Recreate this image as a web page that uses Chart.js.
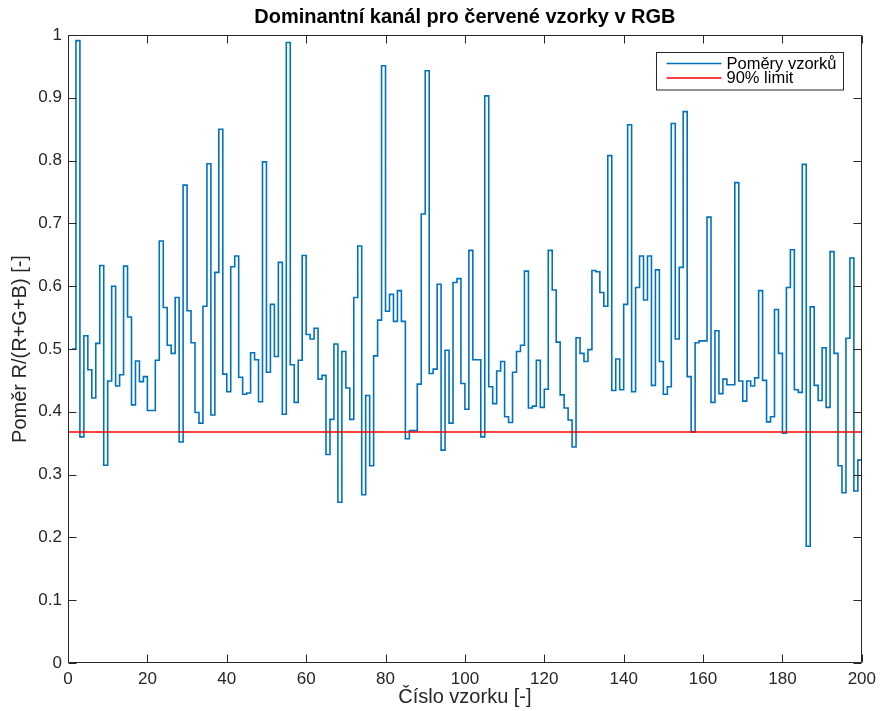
<!doctype html>
<html lang="cs">
<head>
<meta charset="utf-8"/>
<title>Dominantní kanál pro červené vzorky v RGB</title>
<script src="https://cdn.jsdelivr.net/npm/chart.js"></script>
<style>
*{box-sizing:border-box}
html,body{margin:0; padding:0; background:#fff}
#wrap{width:882px; height:711px}
</style>
</head>
<body>
<div id="wrap"><canvas id="chart" width="882" height="711"></canvas></div>
<script>
// ratio R/(R+G+B) per sample, samples 1..200
const ratios = [
  0.500,0.991,0.360,0.521,0.467,0.422,0.509,0.633,0.315,0.449,
  0.600,0.441,0.459,0.632,0.551,0.411,0.481,0.448,0.456,0.402,
  0.402,0.482,0.672,0.566,0.506,0.493,0.582,0.352,0.761,0.561,
  0.510,0.399,0.382,0.568,0.795,0.395,0.622,0.850,0.460,0.432,
  0.631,0.648,0.455,0.428,0.430,0.494,0.483,0.416,0.798,0.463,
  0.571,0.488,0.638,0.396,0.988,0.475,0.415,0.482,0.649,0.523,
  0.516,0.533,0.452,0.458,0.332,0.388,0.508,0.256,0.496,0.438,
  0.388,0.582,0.664,0.268,0.426,0.314,0.489,0.546,0.951,0.560,
  0.587,0.544,0.593,0.544,0.357,0.370,0.370,0.444,0.715,0.943,
  0.461,0.468,0.603,0.339,0.498,0.382,0.606,0.612,0.445,0.404,
  0.657,0.483,0.483,0.360,0.903,0.440,0.413,0.465,0.480,0.392,
  0.383,0.463,0.496,0.506,0.624,0.406,0.409,0.482,0.407,0.436,
  0.657,0.594,0.511,0.427,0.406,0.387,0.344,0.518,0.493,0.480,
  0.499,0.625,0.623,0.590,0.568,0.808,0.434,0.484,0.435,0.571,
  0.857,0.432,0.598,0.648,0.578,0.648,0.442,0.626,0.480,0.428,
  0.440,0.859,0.516,0.630,0.878,0.456,0.368,0.510,0.513,0.513,
  0.710,0.415,0.529,0.429,0.452,0.443,0.443,0.765,0.449,0.417,
  0.449,0.441,0.454,0.593,0.450,0.384,0.392,0.563,0.493,0.366,
  0.598,0.658,0.435,0.431,0.794,0.186,0.567,0.442,0.418,0.502,
  0.407,0.655,0.493,0.314,0.271,0.517,0.645,0.274,0.323,0.380
];
const sampleNo = ratios.map((_, i) => i + 1);
const limitValue = 0.368;
const limitSpan = [0, 200];
const xRange = [0, 200], xStep = 20;
const yRange = [0, 1], yStep = 0.1;

const FONT = '"Liberation Sans", Arial, Helvetica, sans-serif';
const AXIS = '#262626';
const TICK = 8;

// MATLAB style: box around the axes, ticks pointing inwards, legend inside top right
const boxPlugin = {
  id: 'matlabBox',
  afterDraw(chart){
    const {ctx, chartArea:a, scales:{x, y}} = chart;
    const L = Math.round(a.left) + 0.5, R = Math.round(a.right) - 0.5;
    const T = Math.round(a.top) + 0.5, B = Math.round(a.bottom) - 0.5;
    ctx.save();
    ctx.strokeStyle = AXIS; ctx.lineWidth = 1;
    ctx.beginPath();
    ctx.rect(L, T, R - L, B - T);
    x.ticks.forEach(t => {
      const px = Math.round(x.getPixelForValue(t.value)) + 0.5;
      ctx.moveTo(px, B); ctx.lineTo(px, B - TICK);
      ctx.moveTo(px, T); ctx.lineTo(px, T + TICK);
    });
    y.ticks.forEach(t => {
      const py = Math.round(y.getPixelForValue(t.value)) + 0.5;
      ctx.moveTo(L, py); ctx.lineTo(L + TICK, py);
      ctx.moveTo(R, py); ctx.lineTo(R - TICK, py);
    });
    ctx.stroke();

    // legend
    const lw = 187, lh = 37.5;
    const lx = R - 18 - lw, ly = T + 17;
    ctx.fillStyle = '#fff';
    ctx.fillRect(lx, ly, lw, lh);
    ctx.strokeRect(lx, ly, lw, lh);
    ctx.font = '16.5px ' + FONT;
    ctx.textBaseline = 'middle';
    ctx.textAlign = 'left';
    const order = [1, 0];
    order.forEach((di, k) => {
      const ds = chart.data.datasets[di];
      const cy = ly + 11 + k * 14.6;
      ctx.strokeStyle = ds.borderColor; ctx.lineWidth = 1.5;
      ctx.beginPath(); ctx.moveTo(lx + 10, cy); ctx.lineTo(lx + 65, cy); ctx.stroke();
      ctx.fillStyle = '#000';
      ctx.fillText(ds.label, lx + 70, cy + 0.5);
    });
    ctx.restore();
  }
};

const tickFmt = v => String(+v.toFixed(2));

new Chart(document.getElementById('chart'), {
  type: 'line',
  data: {
    datasets: [
      { label: '90% limit', data: limitSpan.map(v => ({x: v, y: limitValue})),
        borderColor: '#FF0000', borderWidth: 1.5, pointRadius: 0, fill: false },
      { label: 'Poměry vzorků', data: sampleNo.map((n, i) => ({x: n, y: ratios[i]})),
        borderColor: '#0072BD', borderWidth: 1.6, pointRadius: 0, fill: false, stepped: 'before' }
    ]
  },
  options: {
    responsive: false, animation: false, devicePixelRatio: 1,
    layout: { padding: { left: 0, right: 18, top: 0, bottom: 0 } },
    plugins: {
      legend: { display: false },
      tooltip: { enabled: false },
      title: { display: true, fullSize: false, text: 'Dominantní kanál pro červené vzorky v RGB',
        color: '#000', font: { family: FONT, size: 20, weight: 'bold' }, padding: { top: 5.5, bottom: 5.5 } }
    },
    scales: {
      x: {
        type: 'linear', min: xRange[0], max: xRange[1],
        grid: { display: false, drawTicks: false }, border: { display: false },
        ticks: { stepSize: xStep, padding: 6, color: AXIS, font: { family: FONT, size: 17 }, callback: tickFmt },
        title: { display: true, text: 'Číslo vzorku [-]', color: AXIS, font: { family: FONT, size: 20 }, padding: { top: 0, bottom: 1.5 } },
        afterFit(s){ s.height = 48; }
      },
      y: {
        type: 'linear', min: yRange[0], max: yRange[1],
        grid: { display: false, drawTicks: false }, border: { display: false },
        ticks: { stepSize: yStep, padding: 6, color: AXIS, font: { family: FONT, size: 17 }, callback: tickFmt },
        title: { display: true, text: 'Poměr R/(R+G+B) [-]', color: AXIS, font: { family: FONT, size: 20 }, padding: { top: 8, bottom: 0 } },
        afterFit(s){ s.width = 68; }
      }
    }
  },
  plugins: [boxPlugin]
});
</script>
</body>
</html>
